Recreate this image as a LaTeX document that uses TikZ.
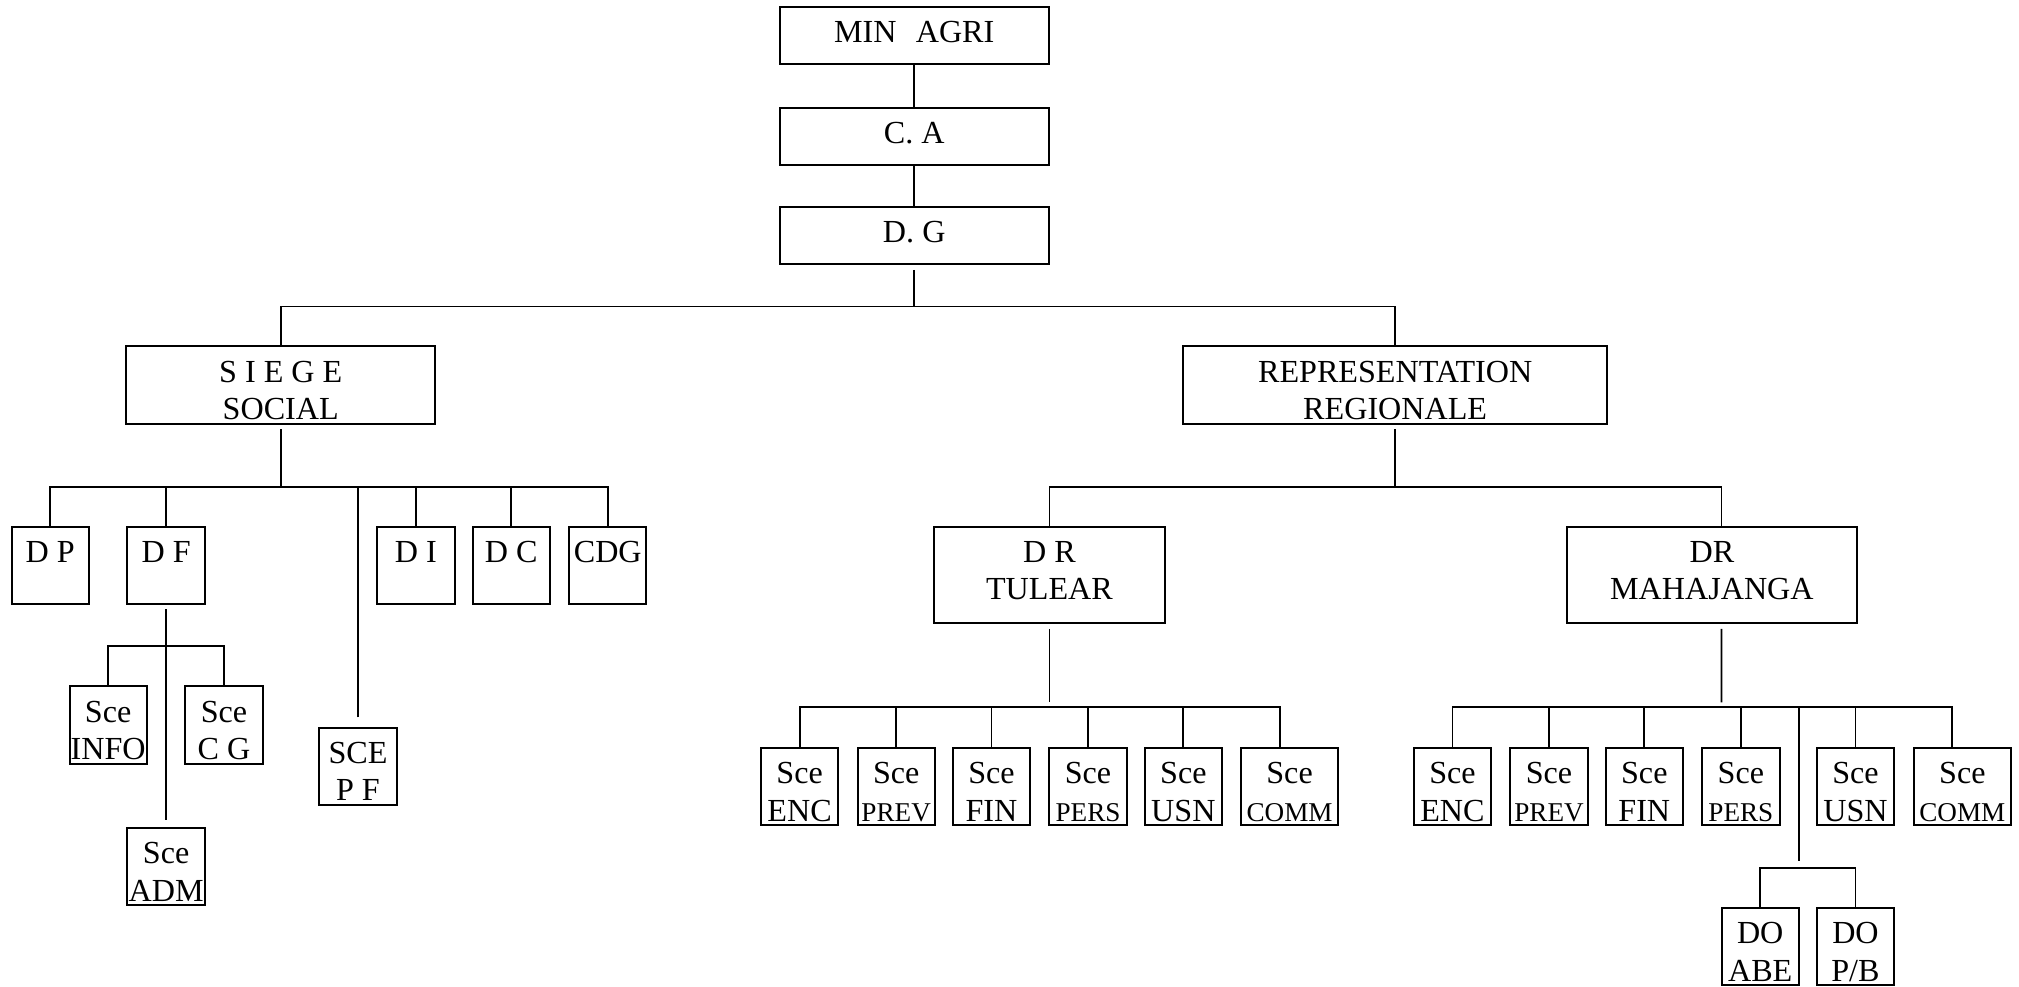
\documentclass[tikz,border=0pt]{standalone}
\usepackage{fontspec}
\setmainfont{Liberation Serif}
\newcommand{\petit}{\fontsize{12}{16.6}\selectfont}
\begin{document}
\begin{tikzpicture}[x=0.2mm, y=-0.2mm]
	\tikzset{boite/.style={rectangle, draw=black, line width=0.9pt, inner sep=0pt, align=center, font=\fontsize{14.2}{16.6}\selectfont},
		haute/.style={boite, minimum width=4.18cm, text height=15.8pt, text depth=9.52pt},
		moyenne/.style={boite, text height=32.4pt, text depth=1.74pt},
		grande/.style={boite, text height=32.4pt, text depth=10.28pt},
		seule/.style={boite, minimum width=1.2cm, text height=15.8pt, text depth=18.34pt},
		petite/.style={boite, minimum width=1.2cm, text height=32.4pt, text depth=1.74pt},
		large/.style={petite, minimum width=1.5cm},
		lien/.style={line width=0.8pt}};

	\useasboundingbox (0,0) rectangle (1568,766);

	% direction
	\node[haute] (min) at ( 710,  27.5) {MIN\hspace{0.6em}AGRI};
	\node[haute] (ca)  at ( 710, 106) {C. A};
	\node[haute] (dg)  at ( 710, 183) {D. G};

	\node[moyenne, minimum width=4.8cm] (siege) at ( 218, 299) {S I E G E\\SOCIAL};
	\node[moyenne, minimum width=6.58cm] (rep) at (1083.5, 299) {REPRESENTATION\\REGIONALE};

	% siege social
	\node[seule] (dp)  at (  39, 439) {D P};
	\node[seule] (df)  at ( 129, 439) {D F};
	\node[seule] (di)  at ( 323, 439) {D I};
	\node[seule] (dc)  at ( 397, 439) {D C};
	\node[seule] (cdg) at ( 472, 439) {CDG};
	\node[petite] (spf) at ( 278, 595) {SCE\\P F};

	\node[petite] (sinfo) at (  84, 563) {Sce\\INFO};
	\node[petite] (scg)   at ( 174, 563) {Sce\\C G};
	\node[petite] (sadm)  at ( 129, 673) {Sce\\ADM};

	% representation regionale
	\node[grande, minimum width=3.6cm] (drt) at ( 815, 446.5) {D R\\TULEAR};
	\node[grande, minimum width=4.5cm] (drm) at (1329.5, 446.5) {DR\\MAHAJANGA};

	\node[petite] (tenc)  at ( 621, 611) {Sce\\ENC};
	\node[petite] (tprev) at ( 696, 611) {Sce\\\petit PREV};
	\node[petite] (tfin)  at ( 770, 611) {Sce\\FIN};
	\node[petite] (tpers) at ( 845, 611) {Sce\\\petit PERS};
	\node[petite] (tusn)  at ( 919, 611) {Sce\\USN};
	\node[large]  (tcomm) at (1001.5, 611) {Sce\\\petit COMM};

	\node[petite] (menc)  at (1128, 611) {Sce\\ENC};
	\node[petite] (mprev) at (1203, 611) {Sce\\\petit PREV};
	\node[petite] (mfin)  at (1277, 611) {Sce\\FIN};
	\node[petite] (mpers) at (1352, 611) {Sce\\\petit PERS};
	\node[petite] (musn)  at (1441, 611) {Sce\\USN};
	\node[large]  (mcomm) at (1524, 611) {Sce\\\petit COMM};

	\node[petite] (doabe) at (1367, 735) {DO\\ABE};
	\node[petite] (dopb)  at (1441, 735) {DO\\P/B};

	% barres de liaison
	\coordinate (b0) at ( 710, 238);
	\coordinate (b1) at ( 218, 378);
	\coordinate (b2) at ( 129, 502);
	\coordinate (b3) at (1083.5, 378);
	\coordinate (b4) at ( 815, 549);
	\coordinate (b5) at (1337, 549);
	\coordinate (b6) at (1397, 674);

	\draw[lien] (min) -- (ca);
	\draw[lien] (ca) -- (dg);
	\draw[lien, shorten <=2pt] (dg) -- (b0);
	\draw[lien] (siege) |- (b0) -| (rep);

	\draw[lien, shorten <=2pt] (siege) -- (b1);
	\draw[lien] (dp) |- (b1) -| (cdg);
	\foreach \n in {df, di, dc}
		\draw[lien] (\n) -- (\n |- b1);
	\draw[lien, shorten <=4pt] (spf) -- (spf |- b1);

	\draw[lien, shorten <=2pt, shorten >=3pt] (df) -- (sadm);
	\draw[lien] (sinfo) |- (b2) -| (scg);

	\draw[lien, shorten <=2pt] (rep) -- (b3);
	\draw[lien] (drt) |- (b3) -| ([xshift=0.15cm]drm.north);

	\draw[lien, shorten <=2pt, shorten >=2pt] (drt) -- (b4);
	\draw[lien] (tenc) |- (b4) -| ([xshift=-0.15cm]tcomm.north);
	\foreach \n in {tprev, tfin, tpers, tusn}
		\draw[lien] (\n) -- (\n |- b4);

	\draw[lien, shorten <=2pt, shorten >=2pt] ([xshift=0.15cm]drm.south) -- (b5);
	\draw[lien] (menc) |- (b5) -| ([xshift=-0.16cm]mcomm.north);
	\foreach \n in {mprev, mfin, mpers, musn}
		\draw[lien] (\n) -- (\n |- b5);
	\draw[lien, shorten >=3pt] (b6 |- b5) -- (b6);
	\draw[lien] (doabe) |- (b6) -| (dopb);

\end{tikzpicture}
\end{document}
